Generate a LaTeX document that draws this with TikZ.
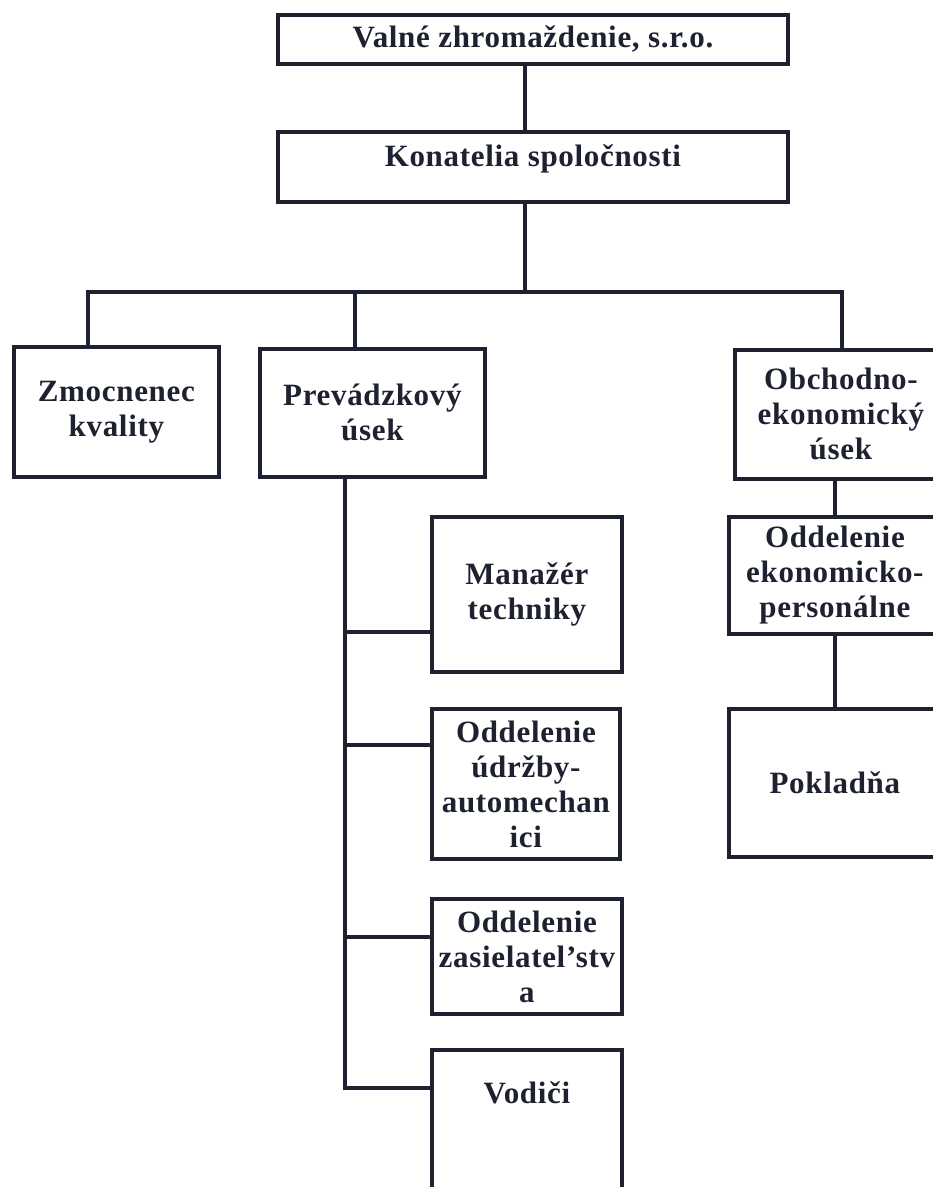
\documentclass[tikz,border=0pt]{standalone}
\usepackage{fontspec}
\setmainfont{Liberation Serif}[LetterSpace=2.2]
\definecolor{ink}{RGB}{30,34,48}

\begin{document}
\begin{tikzpicture}[x=1pt,y=-1pt,
    orgbox/.style={draw=ink, line width=3.8pt, fill=white, text=ink, align=center,
      font=\fontsize{31}{35}\selectfont\bfseries, inner sep=2pt, anchor=north west},
    link/.style={draw=ink, line width=3.8pt}]

    \useasboundingbox (0,0) rectangle (933,1187);
    \clip (0,0) rectangle (933,1187);

    % top of the company
    \node[orgbox, minimum width=510pt, minimum height=49pt] (valne) at (276,13) {Valné zhromaždenie, s.r.o.};
    \node[orgbox, minimum width=510pt, inner ysep=0pt, text height=35pt, text depth=35pt] (konatelia) at (276,130) {Konatelia spoločnosti};

    % first level
    \node[orgbox, minimum width=205pt, minimum height=130pt] (zmoc) at (12,345) {Zmocnenec\\kvality};
    \node[orgbox, minimum width=225pt, minimum height=128pt] (prev) at (258,347) {Prevádzkový\\úsek};
    \node[orgbox, minimum width=212pt, minimum height=129pt] (obch) at (733,348) {Obchodno-\\ekonomický\\úsek};

    % right column
    \node[orgbox, minimum width=212pt, minimum height=117pt] (ekon) at (727,515) {Oddelenie\\ekonomicko-\\personálne};
    \node[orgbox, minimum width=212pt, minimum height=148pt] (pokl) at (727,707) {Pokladňa};

    % under the operations unit
    \node[orgbox, minimum width=190pt, minimum height=155pt] (manaz) at (430,515) {Manažér\\techniky};
    \node[orgbox, minimum width=188pt, minimum height=150pt] (udrz) at (430,707) {Oddelenie\\údržby-\\automechan\\ici};
    \node[orgbox, minimum width=190pt, minimum height=115pt] (zasiel) at (430,897) {Oddelenie\\zasielatel’stv\\a};
    \node[orgbox, minimum width=190pt, inner ysep=0pt, text height=54pt, text depth=140pt] (vodici) at (430,1048) {Vodiči};

    \coordinate (bus) at (525,292);
    \coordinate (busL) at (88,292);
    \coordinate (busP) at (355,292);
    \coordinate (busR) at (842,292);
    \coordinate (b1) at (345,632);
    \coordinate (b2) at (345,745);
    \coordinate (b3) at (345,937);
    \coordinate (b4) at (345,1088);

    \draw[link] (valne.south -| bus) -- (konatelia.north -| bus);
    \draw[link] (konatelia.south -| bus) -- (bus);
    \draw[link] (busL |- zmoc.north) -- (busL) -- (busR) -- (busR |- obch.north);
    \draw[link] (busP) -- (busP |- prev.north);
    \draw[link] (ekon.north) -- (ekon.north |- obch.south);
    \draw[link] (ekon.south) -- (pokl.north);

    \draw[link] (b4 |- prev.south) -- (b4) -- (b4 -| vodici.west);
    \foreach \unit/\pt in {manaz/b1, udrz/b2, zasiel/b3}
        \draw[link] (\pt) -- (\pt -| \unit.west);
\end{tikzpicture}
\end{document}
